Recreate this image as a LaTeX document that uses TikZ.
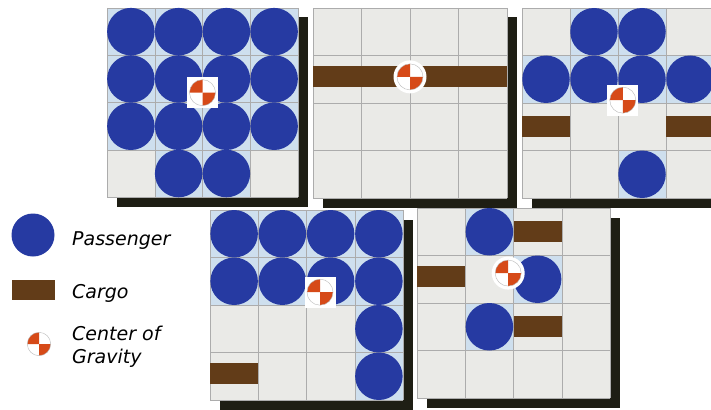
\documentclass[tikz,border=0pt]{standalone}
\usepackage{fontspec}
\newfontfamily\keyfont{DejaVu Sans}
\usetikzlibrary{positioning}
\definecolor{paxblue}{RGB}{38,58,162}
\definecolor{seatblue}{RGB}{206,223,238}
\definecolor{cargobrown}{RGB}{98,60,24}
\definecolor{cgred}{RGB}{214,74,24}
\definecolor{floorgray}{RGB}{234,234,231}
\definecolor{wallblack}{RGB}{30,30,20}
\tikzset{
  pax/.style={circle,fill=paxblue,minimum size=47.5pt,inner sep=0pt},
  cargo/.style={rectangle,fill=cargobrown,minimum width=48pt,minimum height=21pt,inner sep=0pt},
  seat/.style={fill=seatblue},
  floor/.style={fill=floorgray},
  wall/.style={fill=wallblack},
  gridline/.style={draw=gray!65,line width=0.5pt},
  cgbox/.style={rectangle,fill=white,minimum size=31pt,inner sep=0pt},
  cghalo/.style={circle,fill=white,minimum size=33pt,inner sep=0pt},
  keytext/.style={anchor=base west,inner sep=0pt,font=\keyfont\itshape\fontsize{19}{23}\selectfont,align=left},
  cog/.pic={
    \fill[white,x=1pt,y=1pt] (0,0) circle (13);
    \fill[cgred,x=1pt,y=1pt] (0,0) -- (-13,0) arc[start angle=180,end angle=90,radius=13] -- cycle;
    \fill[cgred,x=1pt,y=1pt] (0,0) -- (13,0) arc[start angle=0,end angle=-90,radius=13] -- cycle;
    \draw[gray!55,line width=0.4pt,x=1pt,y=1pt] (0,0) circle (13);
  }
}

\begin{document}
\begin{tikzpicture}[x=1pt,y=-1pt]
\useasboundingbox (0,0) rectangle (711,409);
\clip (0,0) rectangle (711,409);

% legend
\node[pax,minimum size=43pt] (keypax) at (33,235) {};
\node[keytext] (keypaxtext) at (72,245) {Passenger};
\node[cargo,minimum width=43pt,minimum height=20pt] (keycargo) at (33.5,290) {};
\node[keytext] (keycargotext) at (72,298) {Cargo};
\pic[scale=0.9] (keycg) at (39,344) {cog};
\node[keytext] (keycgtext) at (72,363) {Center of\\Gravity};

% panel 1
\begin{scope}[shift={(107,8)},x=47.75pt,y=-47.3pt]
\fill[wall] (0.2,0.2) rectangle (4.2,4.2);
\fill[floor] (0,0) rectangle (4,4);
\fill[seat] (0,0) rectangle (4,3);
\fill[seat] (1,3) rectangle (3,4);
\foreach \k in {0,...,4} {
  \draw[gridline] (\k,0) -- (\k,4);
  \draw[gridline] (0,\k) -- (4,\k);
}
\node[pax] (a11) at (0.5,0.5) {};
\node[pax] (a12) at (1.5,0.5) {};
\node[pax] (a13) at (2.5,0.5) {};
\node[pax] (a14) at (3.5,0.5) {};
\node[pax] (a21) at (0.5,1.5) {};
\node[pax] (a22) at (1.5,1.5) {};
\node[pax] (a23) at (2.5,1.5) {};
\node[pax] (a24) at (3.5,1.5) {};
\node[pax] (a31) at (0.5,2.5) {};
\node[pax] (a32) at (1.5,2.5) {};
\node[pax] (a33) at (2.5,2.5) {};
\node[pax] (a34) at (3.5,2.5) {};
\node[pax] (a42) at (1.5,3.5) {};
\node[pax] (a43) at (2.5,3.5) {};
\node[cgbox] (abox) at (2,1.79) {};
\pic (acg) at (2,1.79) {cog};
\end{scope}

% panel 2
\begin{scope}[shift={(313,8)},x=48.5pt,y=-47.5pt]
\fill[wall] (0.2,0.2) rectangle (4.2,4.2);
\fill[floor] (0,0) rectangle (4,4);
\foreach \k in {0,...,4} {
  \draw[gridline] (\k,0) -- (\k,4);
  \draw[gridline] (0,\k) -- (4,\k);
}
\node[cargo,minimum width=48.5pt] (b21) at (0.5,1.45) {};
\node[cargo,minimum width=48.5pt] (b22) at (1.5,1.45) {};
\node[cargo,minimum width=48.5pt] (b23) at (2.5,1.45) {};
\node[cargo,minimum width=48.5pt] (b24) at (3.5,1.45) {};
\node[cghalo] (bhalo) at (2,1.45) {};
\pic (bcg) at (2,1.45) {cog};
\end{scope}

% panel 3
\begin{scope}[shift={(522,8)},x=48pt,y=-47.5pt]
\fill[wall] (0.2,0.2) rectangle (4.2,4.2);
\fill[floor] (0,0) rectangle (4,4);
\fill[seat] (1,0) rectangle (3,1);
\fill[seat] (0,1) rectangle (4,2);
\fill[seat] (2,3) rectangle (3,4);
\foreach \k in {0,...,4} {
  \draw[gridline] (\k,0) -- (\k,4);
  \draw[gridline] (0,\k) -- (4,\k);
}
\node[pax] (c12) at (1.5,0.5) {};
\node[pax] (c13) at (2.5,0.5) {};
\node[pax] (c21) at (0.5,1.5) {};
\node[pax] (c22) at (1.5,1.5) {};
\node[pax] (c23) at (2.5,1.5) {};
\node[pax] (c24) at (3.5,1.5) {};
\node[cargo] (c31) at (0.5,2.5) {};
\node[cargo] (c34) at (3.5,2.5) {};
\node[pax] (c43) at (2.5,3.5) {};
\node[cgbox] (cbox) at (2.1,1.94) {};
\pic (ccg) at (2.1,1.94) {cog};
\end{scope}

% panel 4
\begin{scope}[shift={(210,210)},x=48.25pt,y=-47.5pt]
\fill[wall] (0.2,0.2) rectangle (4.2,4.2);
\fill[floor] (0,0) rectangle (4,4);
\fill[seat] (0,0) rectangle (4,2);
\fill[seat] (3,2) rectangle (4,4);
\foreach \k in {0,...,4} {
  \draw[gridline] (\k,0) -- (\k,4);
  \draw[gridline] (0,\k) -- (4,\k);
}
\node[pax] (d11) at (0.5,0.5) {};
\node[pax] (d12) at (1.5,0.5) {};
\node[pax] (d13) at (2.5,0.5) {};
\node[pax] (d14) at (3.5,0.5) {};
\node[pax] (d21) at (0.5,1.5) {};
\node[pax] (d22) at (1.5,1.5) {};
\node[pax] (d23) at (2.5,1.5) {};
\node[pax] (d24) at (3.5,1.5) {};
\node[pax] (d34) at (3.5,2.5) {};
\node[pax] (d44) at (3.5,3.5) {};
\node[cargo] (d41) at (0.5,3.45) {};
\node[cgbox] (dbox) at (2.28,1.73) {};
\pic (dcg) at (2.28,1.73) {cog};
\end{scope}

% panel 5
\begin{scope}[shift={(417,208)},x=48.25pt,y=-47.5pt]
\fill[wall] (0.2,0.2) rectangle (4.2,4.2);
\fill[floor] (0,0) rectangle (4,4);
\fill[seat] (1,0) rectangle (2,1);
\fill[seat] (2,1) rectangle (3,2);
\fill[seat] (1,2) rectangle (2,3);
\foreach \k in {0,...,4} {
  \draw[gridline] (\k,0) -- (\k,4);
  \draw[gridline] (0,\k) -- (4,\k);
}
\node[pax] (e12) at (1.5,0.5) {};
\node[cargo] (e13) at (2.5,0.5) {};
\node[cargo] (e21) at (0.5,1.45) {};
\node[pax] (e23) at (2.5,1.5) {};
\node[pax] (e32) at (1.5,2.5) {};
\node[cargo] (e33) at (2.5,2.5) {};
\node[cghalo] (ehalo) at (1.89,1.37) {};
\pic (ecg) at (1.89,1.37) {cog};
\end{scope}
\end{tikzpicture}
\end{document}
